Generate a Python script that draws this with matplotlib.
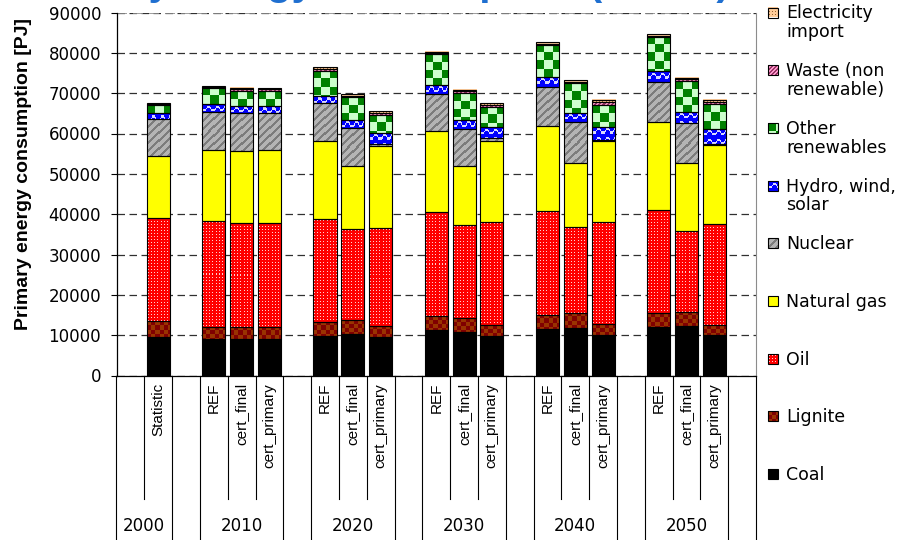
import numpy as np
import matplotlib
matplotlib.use('Agg')
import matplotlib.pyplot as plt
from matplotlib.patches import Rectangle

# ── Data (PJ) ────────────────────────────────────────────────────
years = ['2000', '2010', '2020', '2030', '2040', '2050']
runs = [['', 'Statistic'],
        ['REF', 'cert_final', 'cert_primary'],
        ['REF', 'cert_final', 'cert_primary'],
        ['REF', 'cert_final', 'cert_primary'],
        ['REF', 'cert_final', 'cert_primary'],
        ['REF', 'cert_final', 'cert_primary']]

coal = [9600, 8970, 8970, 8970, 9700, 10290, 9620, 11200, 10780, 9870,
        11450, 11700, 10110, 12100, 12200, 9970]
lignite = [3800, 3130, 3030, 2980, 3500, 3470, 2730, 3470, 3400, 2720,
           3550, 3720, 2660, 3320, 3620, 2470]
oil = [25700, 26100, 25900, 25950, 25500, 22480, 24140, 25860, 23050, 25460,
       25700, 21320, 25210, 25610, 19930, 25120]
natural_gas = [15200, 17800, 17750, 17930, 19430, 15760, 20510, 20070, 14700,
               20010, 21150, 15860, 20080, 21740, 16850, 19500]
nuclear = [9400, 9250, 9350, 9170, 9350, 9280, 310, 9110, 9100, 820,
           9590, 10170, 320, 10070, 9920, 330]
hydro_wind_solar = [1300, 1980, 1880, 1810, 1810, 2060, 2730, 2300, 2310, 2650,
                    2480, 2380, 3300, 2570, 2880, 3790]
other_renewables = [2100, 3970, 3720, 3720, 6270, 5630, 4540, 7610, 6690, 4960,
                    7940, 7290, 5300, 8430, 7610, 6050]
waste = [250, 350, 400, 420, 540, 430, 520, 380, 420, 660,
         390, 410, 720, 410, 390, 570]
electricity_import = [150, 220, 270, 240, 450, 310, 470, 270, 320, 480,
                      350, 330, 520, 330, 350, 500]

series = [('Coal', coal), ('Lignite', lignite), ('Oil', oil),
          ('Natural gas', natural_gas), ('Nuclear', nuclear),
          ('Hydro, wind,\nsolar', hydro_wind_solar),
          ('Other\nrenewables', other_renewables),
          ('Waste (non\nrenewable)', waste),
          ('Electricity\nimport', electricity_import)]


# ── Fill patterns (pixel textures) ───────────────────────────────
def checker(i, j, n):
    return (i // n + j // n) % 2

def dots(i, j, n):
    return ((i % n == 1) & (j % n == 1)).astype(int)

def stripes(i, j, n, k):
    return ((i + j) % n < k).astype(int)

def waves(i, j, n):
    centre = n / 2 + 1.6 * np.sin(2 * np.pi * j / n)
    return (np.abs(i % n - centre) < 1.0).astype(int)

patterns = {
    'Coal': (lambda i, j: 0 * i, ['#000000']),
    'Lignite': (lambda i, j: checker(i, j, 4), ['#993300', '#800000']),
    'Oil': (lambda i, j: dots(i, j, 3), ['#ff0000', '#ffd0d0']),
    'Natural gas': (lambda i, j: 0 * i, ['#ffff00']),
    'Nuclear': (lambda i, j: stripes(i, j, 8, 3), ['#b4b4b4', '#7c7c7c']),
    'Hydro, wind,\nsolar': (lambda i, j: waves(i, j, 8), ['#0000ff', '#d8d8ff']),
    'Other\nrenewables': (lambda i, j: checker(i, j, 8), ['#008000', '#ccffcc']),
    'Waste (non\nrenewable)': (lambda i, j: stripes(i, j, 4, 2), ['#ff99cc', '#993366']),
    'Electricity\nimport': (lambda i, j: dots(i, j, 3), ['#ffcc99', '#996633']),
}

def tile(name, h, w):
    func, cols = patterns[name]
    i, j = np.mgrid[0:h, 0:w]
    rgb = np.array([matplotlib.colors.to_rgb(c) for c in cols])
    return rgb[func(i, j)]


# ── Category layout: year groups separated by empty groups ───────
groups = []
for yr, rs in zip(years, runs):
    groups.append((yr, rs))
    groups.append(('', ['']))
slot_labels, slot_group = [], []
for g, (yr, rs) in enumerate(groups):
    for r in rs:
        slot_labels.append(r)
        slot_group.append(g)
n_slots = len(slot_labels)
bar_x = np.array([s for s, lab in enumerate(slot_labels) if lab])

# ── Figure ───────────────────────────────────────────────────────
W, H = 899, 540
fig = plt.figure(figsize=(W / 100, H / 100), dpi=100)
ax_l, ax_r, ax_b, ax_t = 116.5, 756, 375.5, 12.5
ax = fig.add_axes([ax_l / W, 1 - ax_b / H, (ax_r - ax_l) / W, (ax_b - ax_t) / H])

ymax = 90000
px_per_val = (ax_b - ax_t) / ymax
bw = 0.83
bar_px = int(round(bw * (ax_r - ax_l) / n_slots))

bottom = np.zeros(len(bar_x))
for name, vals in series:
    vals = np.array(vals, dtype=float)
    for k, x in enumerate(bar_x):
        h = max(1, int(round(vals[k] * px_per_val)))
        ax.imshow(tile(name, h, bar_px),
                  extent=(x - bw / 2, x + bw / 2, bottom[k], bottom[k] + vals[k]),
                  aspect='auto', interpolation='nearest', zorder=2)
    ax.bar(bar_x, vals, bw, bottom=bottom, fill=False, edgecolor='black',
           linewidth=0.8, zorder=3)
    bottom += vals

ax.set_xlim(-0.5, n_slots - 0.5)
ax.set_ylim(0, ymax)
ax.set_yticks(np.arange(0, ymax + 1, 10000))
ax.set_xticks([])
ax.tick_params(axis='y', direction='out', length=4, width=0.8, pad=7,
               labelsize=12, colors='black')
for lab in ax.get_yticklabels():
    lab.set_family('DejaVu Sans')

ax.set_axisbelow(True)
ax.yaxis.grid(True, color='#303030', linewidth=0.9, linestyle=(0, (6, 3.6)))
ax.axhline(ymax, color='#8c8c8c', linewidth=1.2, linestyle=(0, (6, 3.6)), zorder=1)
ax.spines['top'].set_visible(False)
ax.spines['right'].set_color('#8c8c8c')
ax.spines['left'].set_linewidth(0.9)
ax.spines['bottom'].set_linewidth(0.9)

# multi-level category axis
tr = ax.get_xaxis_transform()
edges = [-0.5] + [s + 0.5 for s in range(n_slots)]
for e in edges:
    s = int(e - 0.5)
    outer = s < 0 or s + 1 >= n_slots or slot_group[s] != slot_group[s + 1]
    ax.plot([e, e], [0, -0.46 if outer else -0.34], transform=tr, color='black',
            linewidth=0.8, clip_on=False)
for s, lab in enumerate(slot_labels):
    if lab:
        ax.text(s, -0.02, lab, transform=tr, rotation=90, ha='center', va='top',
                fontsize=11, family='Liberation Sans')
for g, (yr, rs) in enumerate(groups):
    members = [s for s in range(n_slots) if slot_group[s] == g]
    if yr:
        ax.text(np.mean(members), -0.415, yr, transform=tr, ha='center',
                va='center', fontsize=12, family='DejaVu Sans')

fig.text(24 / W, 1 - 174 / H, 'Primary energy consumption [PJ]', rotation=90,
         ha='center', va='center', fontsize=14, fontweight='bold',
         family='Liberation Sans')

# title, mostly above the top edge of the canvas
fig.text(375 / W, 1 + 5 / H, 'Primary energy consumption (EU-27)', ha='center',
         va='baseline', fontsize=29, fontweight='bold', color='#1f6fd0',
         family='Liberation Sans')

# ── Legend (top entry first) ─────────────────────────────────────
lax = fig.add_axes([0, 0, 1, 1])
lax.axis('off')
for i, (name, vals) in enumerate(series[::-1]):
    cy = 12.5 + 57.7 * i
    lax.imshow(tile(name, 10, 10), extent=(768, 778, cy + 5, cy - 5),
               aspect='auto', interpolation='nearest')
    lax.add_patch(Rectangle((768, cy - 5), 10, 10, fill=False,
                            edgecolor='black', linewidth=0.8))
    lax.text(786, cy - 8, name, va='top', ha='left', fontsize=12.5,
             family='DejaVu Sans', linespacing=1.05)
lax.set_xlim(0, W)
lax.set_ylim(H, 0)

fig.savefig('out.png', dpi=100)
